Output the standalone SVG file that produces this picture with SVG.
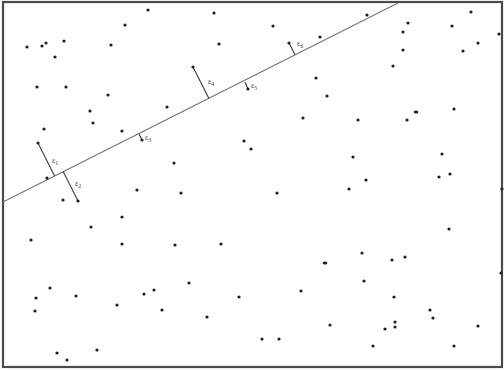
<svg xmlns="http://www.w3.org/2000/svg" width="504" height="371" viewBox="0 0 504 371">
<style>
.d{fill:#1e1e1e}
.res{stroke:#3a3a3a;stroke-width:1.1;fill:none}
.lbl{font-family:"Liberation Serif","DejaVu Serif",serif;font-size:8px;fill:#444}
.sub{font-size:6px}
</style>
<rect x="0" y="0" width="504" height="371" fill="#fff"/>
<rect x="3" y="2" width="499" height="365" fill="none" stroke="#4a4a4a" stroke-width="2.2"/>
<g id="regression-line">
<line x1="3" y1="202" x2="398" y2="3" stroke="#777" stroke-width="1.3"/>
</g>
<g id="connectors">
<line class="res" x1="38" y1="143" x2="54.6" y2="176"/>
<line class="res" x1="63.2" y1="171.6" x2="78" y2="201"/>
<line class="res" x1="139" y1="134" x2="142" y2="140"/>
<line class="res" x1="193" y1="67" x2="208.8" y2="98.2"/>
<line class="res" x1="245" y1="82" x2="248" y2="89"/>
<line class="res" x1="289" y1="43" x2="294.9" y2="54.6"/>
</g>
<g id="labels">
<text class="lbl" x="52" y="163">ε<tspan class="sub" dy="2">1</tspan></text>
<text class="lbl" x="75" y="186">ε<tspan class="sub" dy="2">2</tspan></text>
<text class="lbl" x="145" y="140">ε<tspan class="sub" dy="2">3</tspan></text>
<text class="lbl" x="208" y="84">ε<tspan class="sub" dy="2">4</tspan></text>
<text class="lbl" x="251" y="88">ε<tspan class="sub" dy="2">5</tspan></text>
<text class="lbl" x="297" y="46">ε<tspan class="sub" dy="2">6</tspan></text>
</g>
<g id="points">
<circle class="d" cx="148" cy="10" r="1.6"/>
<circle class="d" cx="125" cy="25" r="1.6"/>
<circle class="d" cx="27" cy="47" r="1.6"/>
<circle class="d" cx="42" cy="46" r="1.6"/>
<circle class="d" cx="46" cy="43" r="1.6"/>
<circle class="d" cx="64" cy="41" r="1.6"/>
<circle class="d" cx="55" cy="57" r="1.6"/>
<circle class="d" cx="111" cy="45" r="1.6"/>
<circle class="d" cx="37" cy="87" r="1.6"/>
<circle class="d" cx="66" cy="87" r="1.6"/>
<circle class="d" cx="108" cy="95" r="1.6"/>
<circle class="d" cx="90" cy="111" r="1.6"/>
<circle class="d" cx="93" cy="123" r="1.6"/>
<circle class="d" cx="167" cy="107" r="1.6"/>
<circle class="d" cx="44" cy="129" r="1.6"/>
<circle class="d" cx="214" cy="13" r="1.6"/>
<circle class="d" cx="219" cy="44" r="1.6"/>
<circle class="d" cx="273" cy="26" r="1.6"/>
<circle class="d" cx="289" cy="43" r="1.6"/>
<circle class="d" cx="320" cy="37" r="1.6"/>
<circle class="d" cx="367" cy="15" r="1.6"/>
<circle class="d" cx="408" cy="23" r="1.6"/>
<circle class="d" cx="403" cy="32" r="1.6"/>
<circle class="d" cx="403" cy="50" r="1.6"/>
<circle class="d" cx="393" cy="66" r="1.6"/>
<circle class="d" cx="471" cy="12" r="1.6"/>
<circle class="d" cx="452" cy="26" r="1.6"/>
<circle class="d" cx="499" cy="34" r="1.6"/>
<circle class="d" cx="478" cy="43" r="1.6"/>
<circle class="d" cx="463" cy="51" r="1.6"/>
<ellipse class="d" cx="416" cy="112" rx="2.4" ry="1.6"/>
<circle class="d" cx="407" cy="120" r="1.6"/>
<circle class="d" cx="454" cy="109" r="1.6"/>
<circle class="d" cx="316" cy="78" r="1.6"/>
<circle class="d" cx="327" cy="96" r="1.6"/>
<circle class="d" cx="303" cy="118" r="1.6"/>
<circle class="d" cx="193" cy="67" r="1.6"/>
<circle class="d" cx="122" cy="131" r="1.6"/>
<circle class="d" cx="142" cy="140" r="1.6"/>
<circle class="d" cx="248" cy="89" r="1.6"/>
<circle class="d" cx="244" cy="141" r="1.6"/>
<circle class="d" cx="251" cy="149" r="1.6"/>
<circle class="d" cx="358" cy="120" r="1.6"/>
<circle class="d" cx="353" cy="157" r="1.6"/>
<circle class="d" cx="366" cy="180" r="1.6"/>
<circle class="d" cx="349" cy="189" r="1.6"/>
<circle class="d" cx="442" cy="154" r="1.6"/>
<circle class="d" cx="450" cy="174" r="1.6"/>
<circle class="d" cx="439" cy="177" r="1.6"/>
<circle class="d" cx="502" cy="189" r="1.6"/>
<circle class="d" cx="449" cy="229" r="1.6"/>
<circle class="d" cx="174" cy="163" r="1.6"/>
<circle class="d" cx="181" cy="193" r="1.6"/>
<circle class="d" cx="277" cy="193" r="1.6"/>
<circle class="d" cx="175" cy="245" r="1.6"/>
<circle class="d" cx="221" cy="244" r="1.6"/>
<circle class="d" cx="38" cy="143" r="1.6"/>
<circle class="d" cx="47" cy="178" r="1.6"/>
<circle class="d" cx="63" cy="200" r="1.6"/>
<circle class="d" cx="78" cy="201" r="1.6"/>
<circle class="d" cx="137" cy="190" r="1.6"/>
<circle class="d" cx="122" cy="217" r="1.6"/>
<circle class="d" cx="91" cy="227" r="1.6"/>
<circle class="d" cx="31" cy="240" r="1.6"/>
<circle class="d" cx="122" cy="244" r="1.6"/>
<circle class="d" cx="50" cy="288" r="1.6"/>
<circle class="d" cx="36" cy="298" r="1.6"/>
<circle class="d" cx="76" cy="296" r="1.6"/>
<circle class="d" cx="35" cy="311" r="1.6"/>
<circle class="d" cx="117" cy="305" r="1.6"/>
<circle class="d" cx="144" cy="294" r="1.6"/>
<circle class="d" cx="154" cy="290" r="1.6"/>
<circle class="d" cx="162" cy="310" r="1.6"/>
<circle class="d" cx="57" cy="353" r="1.6"/>
<circle class="d" cx="67" cy="360" r="1.6"/>
<circle class="d" cx="97" cy="350" r="1.6"/>
<circle class="d" cx="189" cy="283" r="1.6"/>
<circle class="d" cx="207" cy="317" r="1.6"/>
<circle class="d" cx="239" cy="297" r="1.6"/>
<circle class="d" cx="262" cy="339" r="1.6"/>
<circle class="d" cx="279" cy="339" r="1.6"/>
<circle class="d" cx="301" cy="291" r="1.6"/>
<ellipse class="d" cx="325" cy="263" rx="2.4" ry="1.6"/>
<circle class="d" cx="330" cy="325" r="1.6"/>
<circle class="d" cx="362" cy="253" r="1.6"/>
<circle class="d" cx="392" cy="260" r="1.6"/>
<circle class="d" cx="405" cy="257" r="1.6"/>
<circle class="d" cx="501" cy="273" r="1.6"/>
<circle class="d" cx="364" cy="281" r="1.6"/>
<circle class="d" cx="394" cy="297" r="1.6"/>
<circle class="d" cx="430" cy="310" r="1.6"/>
<circle class="d" cx="433" cy="318" r="1.6"/>
<circle class="d" cx="395" cy="322" r="1.6"/>
<circle class="d" cx="395" cy="327" r="1.6"/>
<circle class="d" cx="385" cy="329" r="1.6"/>
<circle class="d" cx="478" cy="326" r="1.6"/>
<circle class="d" cx="373" cy="346" r="1.6"/>
<circle class="d" cx="454" cy="346" r="1.6"/>
</g>
</svg>
